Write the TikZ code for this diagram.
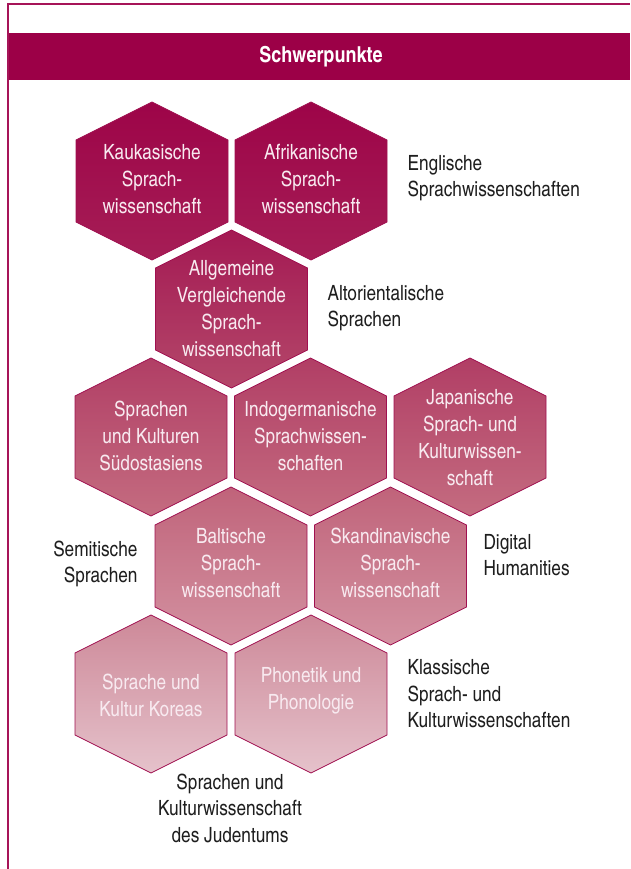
\documentclass[tikz,border=0pt]{standalone}
\usepackage{fontspec}
\setmainfont{TeX Gyre Heros Cn}
\definecolor{headred}{RGB}{156,0,71}
\definecolor{framered}{RGB}{166,20,88}
\definecolor{hexline}{RGB}{160,16,80}
\definecolor{hextxt}{RGB}{248,234,240}
\definecolor{labeltxt}{RGB}{30,30,30}
\definecolor{r1top}{RGB}{157,4,72}
\definecolor{r1bot}{RGB}{166,30,86}
\definecolor{r2top}{RGB}{164,25,83}
\definecolor{r2bot}{RGB}{180,72,106}
\definecolor{r3top}{RGB}{177,62,101}
\definecolor{r3bot}{RGB}{196,108,128}
\definecolor{r4top}{RGB}{192,99,122}
\definecolor{r4bot}{RGB}{211,146,161}
\definecolor{r5top}{RGB}{205,136,152}
\definecolor{r5bot}{RGB}{229,194,203}
\begin{document}
\begin{tikzpicture}[x=1pt, y=-1pt,
  hexa/.pic={\path[pic actions] (0,-79) -- (76,-41) -- (76,41) -- (0,79) -- (-76,41) -- (-76,-41) -- cycle;},
  cell/.style={draw=hexline, line width=0.8pt},
  row1/.style={cell, top color=r1top, bottom color=r1bot},
  row2/.style={cell, top color=r2top, bottom color=r2bot},
  row3/.style={cell, top color=r3top, bottom color=r3bot},
  row4/.style={cell, top color=r4top, bottom color=r4bot},
  row5/.style={cell, top color=r5top, bottom color=r5bot},
  hextext/.style={text=hextxt, align=center, font=\fontsize{21}{27}\selectfont},
  sidetext/.style={text=labeltxt, font=\fontsize{21}{26.5}\selectfont}]
  \useasboundingbox (0,0) rectangle (630,869);

  % Frame and header
  \draw[framered, line width=2pt] (8,869) -- (8,4) -- (630,4);
  \fill[headred] (9,33) rectangle (630,80);
  \node[text=white, font=\bfseries\fontsize{22}{26}\selectfont] (head) at (321,57) {Schwerpunkte};

  % Hexagons
  \pic[row1] at (152,181) {hexa};
  \pic[row1] at (311,181) {hexa};
  \pic[row2] at (231.5,309) {hexa};
  \pic[row3] at (151,437) {hexa};
  \pic[row3] at (310.5,437) {hexa};
  \pic[row3] at (470,437) {hexa};
  \pic[row4] at (231,566) {hexa};
  \pic[row4] at (390.5,566) {hexa};
  \pic[row5] at (151,694) {hexa};
  \pic[row5] at (311,694) {hexa};

  % Texts in the hexagons
  \node[hextext] (kauk) at (152,179) {Kaukasische\\Sprach-\\wissenschaft};
  \node[hextext] (afri) at (311,179) {Afrikanische\\Sprach-\\wissenschaft};
  \node[hextext] (allg) at (231.5,309) {Allgemeine\\Vergleichende\\Sprach-\\wissenschaft};
  \node[hextext] (suedo) at (151,436) {Sprachen\\und Kulturen\\Südostasiens};
  \node[hextext] (indo) at (310.5,436) {Indogermanische\\Sprachwissen-\\schaften};
  \node[hextext] (japan) at (470,438) {Japanische\\Sprach- und\\Kulturwissen-\\schaft};
  \node[hextext] (balt) at (231,563) {Baltische\\Sprach-\\wissenschaft};
  \node[hextext] (skand) at (390.5,563) {Skandinavische\\Sprach-\\wissenschaft};
  \node[hextext] (korea) at (151,695) {Sprache und\\Kultur Koreas};
  \node[hextext] (phon) at (311,691) {Phonetik und\\Phonologie};

  % Labels beside the hexagons
  \node[sidetext, anchor=west, align=left] (engl) at (404,178) {Englische\\Sprachwissenschaften};
  \node[sidetext, anchor=west, align=left] (altor) at (324,308) {Altorientalische\\Sprachen};
  \node[sidetext, anchor=east, align=right] (semit) at (141,564) {Semitische\\Sprachen};
  \node[sidetext, anchor=west, align=left] (digit) at (480,555) {Digital\\Humanities};
  \node[sidetext, anchor=west, align=left] (klass) at (404,694) {Klassische\\Sprach- und\\Kulturwissenschaften};
  \node[sidetext, align=center] (juden) at (230,808) {Sprachen und\\Kulturwissenschaft\\des Judentums};
\end{tikzpicture}
\end{document}
